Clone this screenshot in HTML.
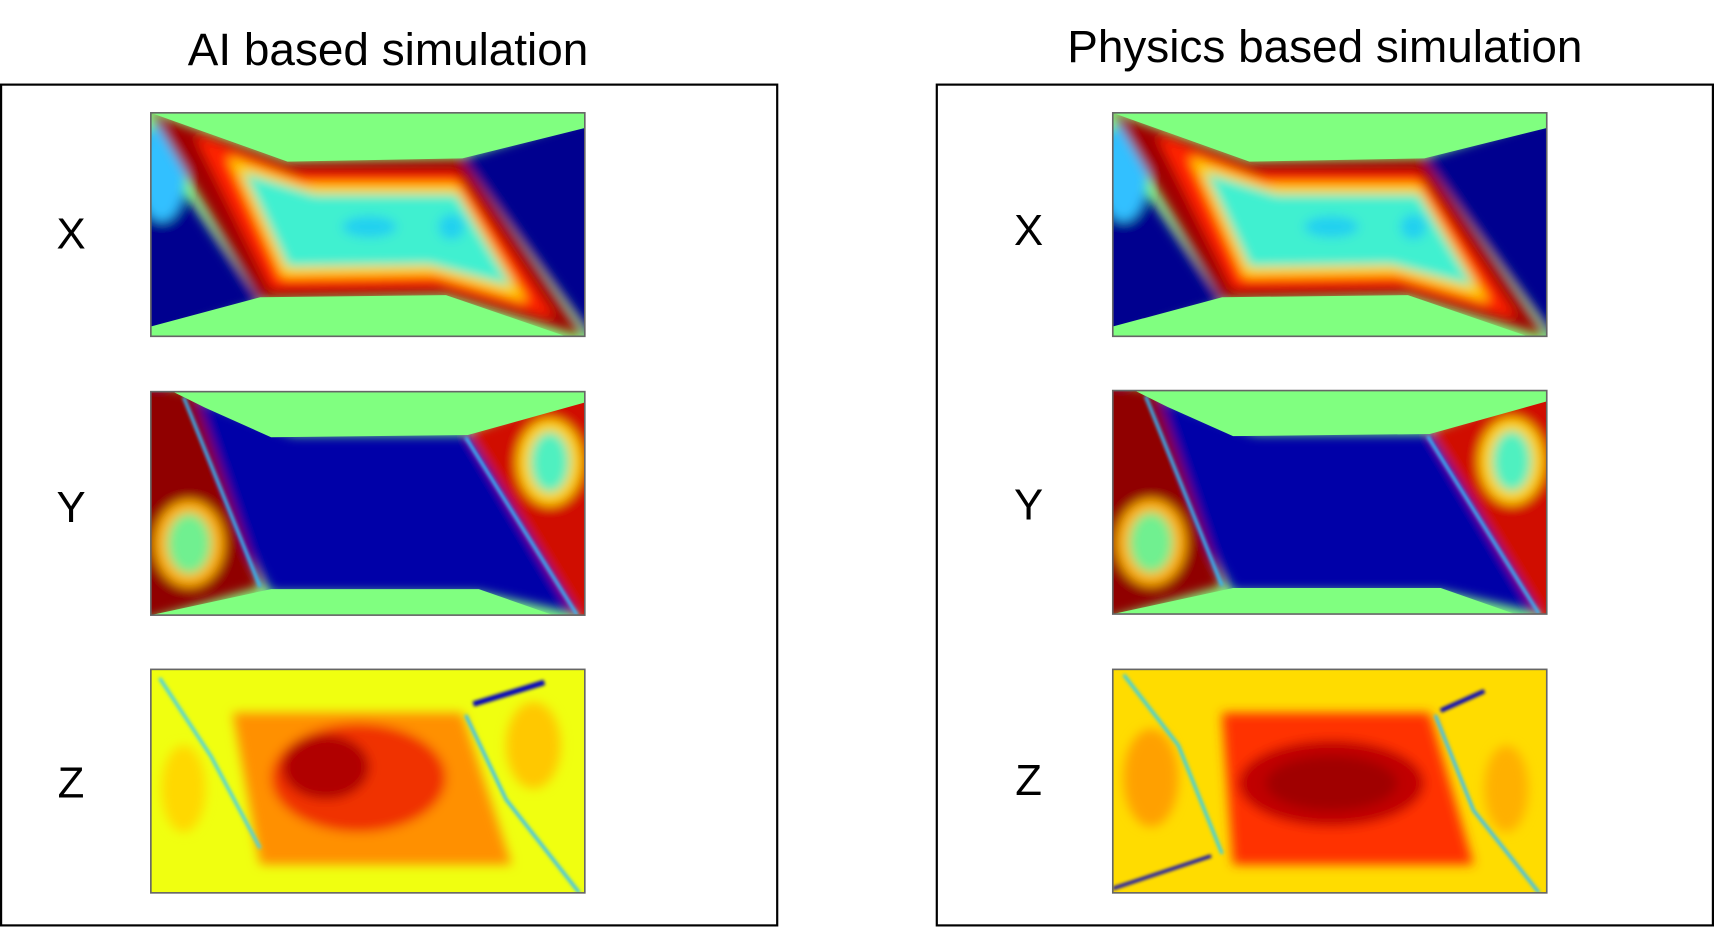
<!DOCTYPE html>
<html><head><meta charset="utf-8"><style>
html,body{margin:0;padding:0;background:#fff;width:1714px;height:933px;overflow:hidden}
svg{display:block}
text{font-family:"Liberation Sans","DejaVu Sans",sans-serif;fill:#000}
</style></head><body>
<svg width="1714" height="933" viewBox="0 0 1568 860" preserveAspectRatio="none" xmlns="http://www.w3.org/2000/svg">
<defs>
<filter id="b" x="-10%" y="-10%" width="120%" height="120%"><feGaussianBlur stdDeviation="5"/></filter>
<filter id="b2" x="-10%" y="-10%" width="120%" height="120%"><feGaussianBlur stdDeviation="1.5"/></filter>
<clipPath id="c"><rect x="0" y="0" width="397" height="206"/></clipPath>

<g id="mx">
<g clip-path="url(#c)">
<rect width="397" height="206" fill="#80ff80"/>
<g filter="url(#b)">
<polygon points="-20,0 100,175 -20,215" fill="#00008f"/>
<ellipse cx="10" cy="55" rx="22" ry="45" fill="#30c0ff"/>
<polygon points="285,42 410,0 410,215" fill="#00008f"/>
<polygon points="0,0 125,45 285,42 395,206 270,168 100,172" fill="#a00000"/>
<polygon points="40,20 130,55 280,55 370,190 265,160 110,162" fill="#ff2000"/>
<polygon points="70,40 140,65 280,65 345,175 260,150 120,152" fill="#ffd000"/>
<polygon points="85,55 150,75 280,75 330,160 255,140 125,142" fill="#40f0d0"/>
<ellipse cx="200" cy="105" rx="25" ry="10" fill="#20d0f0"/>
<ellipse cx="275" cy="105" rx="12" ry="12" fill="#20d0f0"/>
</g>
<polygon points="0,0 397,0 397,14 285,42 125,45" fill="#80ff80"/>
<polygon points="0,197 100,170 270,168 397,212 0,212" fill="#80ff80"/>
</g>
<rect x="0" y="0" width="397" height="206" fill="none" stroke="#666" stroke-width="1.5"/>
</g>

<g id="my">
<g clip-path="url(#c)">
<rect width="397" height="206" fill="#80ff80"/>
<g filter="url(#b)">
<polygon points="0,-10 130,40 290,40 395,206 300,185 110,185" fill="#0000a8"/>
<polygon points="-20,-10 40,0 100,180 -20,215" fill="#900000"/>
<ellipse cx="35" cy="140" rx="32" ry="40" fill="#ffb000"/>
<ellipse cx="35" cy="140" rx="20" ry="28" fill="#70f090"/>
<polygon points="290,38 410,-10 410,215 395,215" fill="#d01000"/>
<ellipse cx="365" cy="65" rx="30" ry="40" fill="#ffd000"/>
<ellipse cx="365" cy="65" rx="18" ry="28" fill="#50f0c0"/>
</g>
<g filter="url(#b2)" stroke="#30c0ff" stroke-width="3" fill="none">
<line x1="30" y1="5" x2="100" y2="180"/>
<line x1="288" y1="42" x2="390" y2="206"/>
</g>
<polygon points="20,0 397,0 397,10 290,40 110,42 50,15" fill="#80ff80"/>
<polygon points="0,212 0,206 110,182 300,182 385,212" fill="#80ff80"/>
</g>
<rect x="0" y="0" width="397" height="206" fill="none" stroke="#666" stroke-width="1.5"/>
</g>

<g id="mzl">
<g clip-path="url(#c)">
<rect width="397" height="206" fill="#f0ff10"/>
<g filter="url(#b)">
<polygon points="75,40 285,40 330,180 100,180" fill="#ff9000"/>
<ellipse cx="190" cy="100" rx="80" ry="50" fill="#f03000"/>
<ellipse cx="160" cy="90" rx="40" ry="30" fill="#b00000"/>
<ellipse cx="350" cy="70" rx="25" ry="40" fill="#ffc800"/>
<ellipse cx="30" cy="110" rx="20" ry="40" fill="#ffd800"/>
</g>
<g filter="url(#b2)" fill="none">
<path d="M8,8 L55,80 L100,165" stroke="#40d0f0" stroke-width="3"/>
<path d="M288,42 L325,120 L392,206" stroke="#30c0ff" stroke-width="3"/>
<path d="M295,32 L360,12" stroke="#0000c0" stroke-width="5"/>
</g>
</g>
<rect x="0" y="0" width="397" height="206" fill="none" stroke="#666" stroke-width="1.5"/>
</g>

<g id="mzr">
<g clip-path="url(#c)">
<rect width="397" height="206" fill="#ffdc00"/>
<g filter="url(#b)">
<polygon points="100,40 290,40 330,180 110,180" fill="#ff3000"/>
<ellipse cx="200" cy="105" rx="85" ry="40" fill="#c00000"/>
<ellipse cx="200" cy="105" rx="60" ry="25" fill="#a00000"/>
<ellipse cx="35" cy="100" rx="25" ry="45" fill="#ffa000"/>
<ellipse cx="360" cy="110" rx="20" ry="40" fill="#ffb000"/>
</g>
<g filter="url(#b2)" fill="none">
<path d="M10,5 L60,70 L100,170" stroke="#30d0f0" stroke-width="3"/>
<path d="M295,42 L330,130 L390,206" stroke="#30c0ff" stroke-width="3"/>
<path d="M300,38 L340,20" stroke="#0000c0" stroke-width="4"/>
<path d="M0,202 L90,172" stroke="#0000c0" stroke-width="3"/>
</g>
</g>
<rect x="0" y="0" width="397" height="206" fill="none" stroke="#666" stroke-width="1.5"/>
</g>
</defs>

<text x="355" y="60" font-size="42" text-anchor="middle">AI based simulation</text>
<text x="1212" y="57" font-size="42" text-anchor="middle">Physics based simulation</text>

<rect x="1" y="78" width="710" height="775" fill="none" stroke="#000" stroke-width="2"/>
<rect x="857" y="78" width="710" height="775" fill="none" stroke="#000" stroke-width="2"/>

<text x="65" y="229" font-size="40" text-anchor="middle">X</text>
<text x="65" y="481" font-size="40" text-anchor="middle">Y</text>
<text x="65" y="735" font-size="40" text-anchor="middle">Z</text>
<text x="941" y="226" font-size="40" text-anchor="middle">X</text>
<text x="941" y="479" font-size="40" text-anchor="middle">Y</text>
<text x="941" y="733" font-size="40" text-anchor="middle">Z</text>

<use href="#mx" transform="translate(138,104)"/>
<use href="#my" transform="translate(138,361)"/>
<use href="#mzl" transform="translate(138,617)"/>
<use href="#mx" transform="translate(1018,104)"/>
<use href="#my" transform="translate(1018,360)"/>
<use href="#mzr" transform="translate(1018,617)"/>
</svg>
</body></html>
